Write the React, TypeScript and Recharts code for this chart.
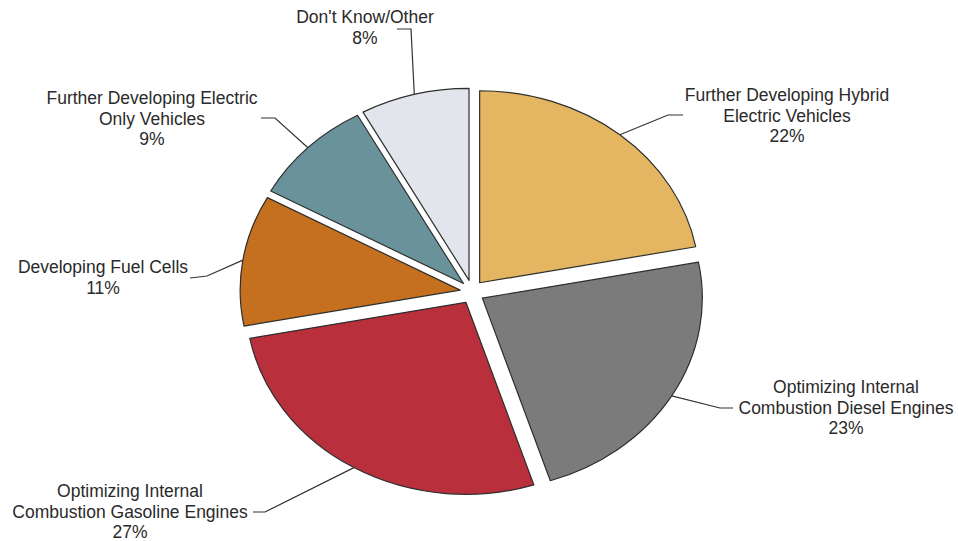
import React from "react";
import { PieChart, Pie, Cell } from "recharts";

// ---- data ----
const categories = [
  "Further Developing Hybrid Electric Vehicles",
  "Optimizing Internal Combustion Diesel Engines",
  "Optimizing Internal Combustion Gasoline Engines",
  "Developing Fuel Cells",
  "Further Developing Electric Only Vehicles",
  "Don't Know/Other",
];
const shares = [22, 23, 27, 11, 9, 8];
const labelLines = [
  ["Further Developing Hybrid", "Electric Vehicles"],
  ["Optimizing Internal", "Combustion Diesel Engines"],
  ["Optimizing Internal", "Combustion Gasoline Engines"],
  ["Developing Fuel Cells"],
  ["Further Developing Electric", "Only Vehicles"],
  ["Don't Know/Other"],
];
const colors = ["#E4B661", "#7B7B7B", "#B92F3B", "#C4701F", "#6A929A", "#E2E5EB"];

// ---- layout (label placement) ----
const labelLayout = [
  { elbow: [668, 115], end: [683, 115], tx: 787, ty: 95 },
  { elbow: [720, 408], end: [733, 408], tx: 846, ty: 387 },
  { elbow: [265, 512], end: [253, 512], tx: 130, ty: 491 },
  { elbow: [207, 276], end: [190, 278], tx: 103, ty: 267 },
  { elbow: [275, 118], end: [261, 118], tx: 152, ty: 98 },
  { elbow: [411, 29], end: [397, 29], tx: 365, ty: 17 },
];
const LINE_H = 20.5;
const X_SCALE = 220 / 192;
const EXPLODE = 12;
const FONT = "'Liberation Sans', Arial, sans-serif";

const data = categories.map((name, i) => ({ name, value: shares[i] }));

function ellPoint(cx: number, cy: number, r: number, angleDeg: number) {
  const rad = (-angleDeg * Math.PI) / 180;
  return [cx + r * X_SCALE * Math.cos(rad), cy + r * Math.sin(rad)];
}

function explodedCenter(cx: number, cy: number, mid: number) {
  const rad = (-mid * Math.PI) / 180;
  return [cx + EXPLODE * Math.cos(rad), cy + EXPLODE * Math.sin(rad)];
}

function renderSlice(props: any) {
  const { cx, cy, outerRadius, startAngle, endAngle, fill } = props;
  const mid = props.midAngle ?? (startAngle + endAngle) / 2;
  const [ox, oy] = explodedCenter(cx, cy, mid);
  const [x1, y1] = ellPoint(ox, oy, outerRadius, startAngle);
  const [x2, y2] = ellPoint(ox, oy, outerRadius, endAngle);
  const large = Math.abs(endAngle - startAngle) > 180 ? 1 : 0;
  const sweep = endAngle < startAngle ? 1 : 0;
  const d = `M${ox},${oy} L${x1},${y1} A${outerRadius * X_SCALE},${outerRadius} 0 ${large} ${sweep} ${x2},${y2} Z`;
  return <path d={d} fill={fill} stroke="#2e2e2e" strokeWidth={1.2} strokeLinejoin="round" />;
}

function renderLabel(props: any) {
  const { cx, cy, outerRadius, midAngle, index, value } = props;
  const [ox, oy] = explodedCenter(cx, cy, midAngle);
  const [sx, sy] = ellPoint(ox, oy, outerRadius, midAngle);
  const lay = labelLayout[index];
  const lines = [...labelLines[index], `${value}%`];
  return (
    <g>
      <polyline
        points={`${sx},${sy} ${lay.elbow[0]},${lay.elbow[1]} ${lay.end[0]},${lay.end[1]}`}
        fill="none"
        stroke="#333"
        strokeWidth={1.2}
      />
      {lines.map((t, k) => (
        <text
          key={k}
          x={lay.tx}
          y={lay.ty + k * LINE_H}
          textAnchor="middle"
          dominantBaseline="central"
          fontFamily={FONT}
          fontSize={17.5}
          fill="#2a2a2a"
        >
          {t}
        </text>
      ))}
    </g>
  );
}

export default function App() {
  return (
    <div style={{ position: "absolute", left: 0, top: 0, background: "#fff" }}>
      <PieChart width={958} height={541} margin={{ top: 0, right: 0, bottom: 0, left: 0 }}>
        <Pie
          data={data}
          dataKey="value"
          nameKey="name"
          cx={472}
          cy={292}
          outerRadius={192}
          startAngle={90}
          endAngle={-270}
          isAnimationActive={false}
          shape={renderSlice}
          activeShape={renderSlice}
          inactiveShape={renderSlice}
          label={renderLabel}
          labelLine={false}
          stroke="#2e2e2e"
        >
          {data.map((d, i) => (
            <Cell key={d.name} fill={colors[i]} />
          ))}
        </Pie>
      </PieChart>
    </div>
  );
}
